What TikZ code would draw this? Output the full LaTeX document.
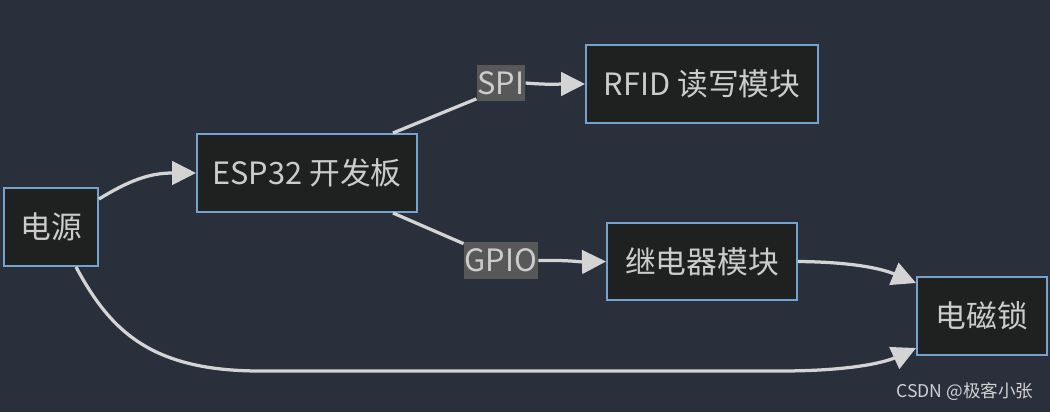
\documentclass[tikz,border=0pt]{standalone}
\usepackage{fontspec}
\setmainfont{Noto Sans CJK SC}
\usetikzlibrary{arrows.meta,calc}
\definecolor{canvas}{RGB}{42,47,60}
\definecolor{modfill}{RGB}{31,32,32}
\definecolor{modline}{RGB}{118,162,208}
\definecolor{modtext}{RGB}{204,204,204}
\definecolor{wire}{RGB}{212,212,212}
\definecolor{busfill}{RGB}{88,88,88}

\begin{document}
\begin{tikzpicture}[
      x=0.02cm, y=0.02cm,
      module/.style={rectangle, draw=modline, fill=modfill, line width=0.04cm, text=modtext,
        font=\fontsize{17.5}{21}\selectfont, minimum height=1.56cm, inner sep=0pt},
      busname/.style={rectangle, fill=busfill, text=modtext, font=\fontsize{17.5}{21}\selectfont,
        minimum height=0.74cm, inner xsep=0.5pt, inner ysep=0pt},
      pointer/.style={draw=wire, line width=0.065cm, -{Triangle[length=0.48cm, width=0.47cm]}},
      wire/.style={draw=wire, line width=0.065cm}
      ]

      % background and picture size
      \fill[canvas] (0,0) rectangle (1050,-412);
      \useasboundingbox (0,0) rectangle (1050,-412);

      % the modules
      \node[module, minimum width=1.88cm] (power) at (51,-227) {电源};
      \node[module, minimum width=4.4cm] (esp) at (307,-173) {ESP32 开发板};
      \node[module, minimum width=4.64cm] (rfid) at (702,-84) {RFID 读写模块};
      \node[module, minimum width=3.8cm] (relay) at (702,-261.5) {继电器模块};
      \node[module, minimum width=2.6cm] (lock) at (982,-316) {电磁锁};

      % the bus labels sit on the wires
      \node[busname] (spi) at (501,-83) {SPI};
      \node[busname] (gpio) at (501,-260.5) {GPIO};

      % power feeds the board and the lock
      \draw[pointer] ($(power.north east)+(0,-12)$) .. controls (130,-180) and (150,-173) .. (esp.west);
      \draw[pointer] ($(power.south west)+(73,0)$) .. controls (110,-330) and (150,-371) .. (260,-371)
        -- (780,-371) .. controls (860,-371) and (890,-360) .. ($(lock.south west)+(0,8)$);

      % board to the RFID reader over SPI
      \draw[wire] ($(esp.north east)+(-25,0)$) -- ($(spi.south west)+(0,3)$);
      \draw[pointer] (spi.east) .. controls (550,-85) and (560,-84) .. (rfid.west);

      % board to the relay over GPIO
      \draw[wire] ($(esp.south east)+(-25,0)$) -- ($(gpio.north west)+(0,-2)$);
      \draw[pointer] (gpio.east) .. controls (570,-260) and (580,-262) .. (relay.west);

      % relay switches the lock
      \draw[pointer] (relay.east) .. controls (850,-262) and (880,-268) .. ($(lock.north west)+(0,-7)$);

      % watermark
      \node[text=modtext!90, font=\fontsize{10}{12}\selectfont] (mark) at (965,-392) {CSDN @极客小张};
    \end{tikzpicture}
\end{document}
